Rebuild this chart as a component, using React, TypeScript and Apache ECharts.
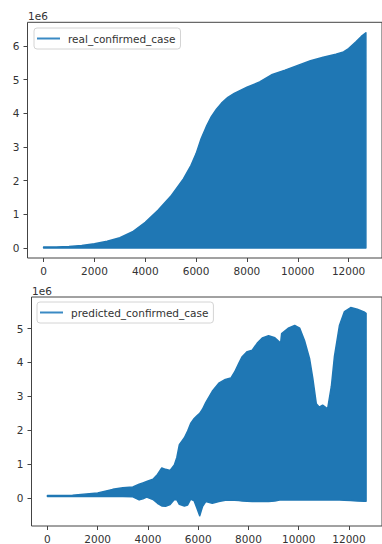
import React, { useEffect, useRef } from "react";
import * as echarts from "echarts";

// ---------- data (values in units of 1e6) ----------
const realX = [0, 500, 1000, 1500, 2000, 2500, 3000, 3500, 4000, 4500, 5000, 5500, 5800, 6000, 6200, 6400, 6600, 6800, 7000, 7250, 7500, 8000, 8500, 9000, 9500, 10000, 10500, 11000, 11500, 11800, 12000, 12300, 12500, 12680];
const realUpper = [0.03, 0.03, 0.04, 0.07, 0.12, 0.2, 0.3, 0.48, 0.76, 1.12, 1.53, 2.05, 2.45, 2.8, 3.25, 3.6, 3.9, 4.12, 4.3, 4.47, 4.59, 4.77, 4.93, 5.15, 5.28, 5.42, 5.56, 5.66, 5.75, 5.82, 5.92, 6.13, 6.28, 6.39];
const realLower = [0, 0, 0, 0, 0, 0, 0, 0, 0, 0, 0, 0, 0, 0, 0, 0, 0, 0, 0, 0, 0, 0, 0, 0, 0, 0, 0, 0, 0, 0, 0, 0, 0, 0];

const predX = [0, 1000, 2000, 2600, 3000, 3400, 3650, 3800, 3950, 4200, 4380, 4550, 4700, 4880, 5050, 5150, 5250, 5450, 5580, 5700, 5840, 5950, 6060, 6170, 6300, 6560, 6820, 7080, 7300, 7450, 7620, 7750, 7950, 8150, 8350, 8550, 8800, 9050, 9280, 9320, 9580, 9840, 10040, 10230, 10430, 10560, 10700, 10820, 10950, 11150, 11300, 11420, 11620, 11820, 12070, 12330, 12600, 12680];
const predUpper = [0.08, 0.09, 0.15, 0.26, 0.31, 0.33, 0.41, 0.45, 0.49, 0.56, 0.7, 0.89, 0.85, 0.82, 0.98, 1.2, 1.58, 1.78, 1.98, 2.2, 2.35, 2.43, 2.5, 2.62, 2.82, 3.15, 3.39, 3.5, 3.54, 3.72, 3.98, 4.17, 4.32, 4.36, 4.57, 4.72, 4.79, 4.73, 4.57, 4.85, 5.01, 5.09, 5.01, 4.65, 4.12, 3.53, 2.78, 2.68, 2.74, 2.63, 3.3, 4.17, 5.09, 5.5, 5.62, 5.57, 5.49, 5.45];
const predLower = [0.05, 0.05, 0.05, 0.05, 0.05, 0.04, -0.05, -0.02, 0.03, -0.04, -0.15, -0.23, -0.24, -0.19, -0.04, -0.05, -0.18, -0.23, -0.2, -0.03, -0.08, -0.3, -0.52, -0.25, -0.1, -0.15, -0.1, -0.06, -0.06, -0.06, -0.07, -0.08, -0.09, -0.1, -0.1, -0.09, -0.1, -0.08, -0.05, -0.05, -0.05, -0.05, -0.05, -0.05, -0.05, -0.05, -0.05, -0.05, -0.05, -0.05, -0.05, -0.05, -0.05, -0.06, -0.07, -0.08, -0.09, -0.09];

const xTicks = [0, 2000, 4000, 6000, 8000, 10000, 12000];
const realYTicks = [0, 1, 2, 3, 4, 5, 6];
const predYTicks = [0, 1, 2, 3, 4, 5];
const realName = "real_confirmed_case";
const predName = "predicted_confirmed_case";

const BLUE = "#1f77b4";
const TEXT = "#333";
const FONT = "DejaVu Sans";

function xAxisFor(gridIndex: number) {
  return {
    type: "value",
    gridIndex,
    min: -634,
    max: 13314,
    axisLine: { show: false, onZero: false },
    splitLine: { show: false },
    axisTick: { show: true, length: 4, customValues: xTicks, lineStyle: { color: "#444" } },
    axisLabel: {
      customValues: xTicks,
      formatter: (v: number) => String(v),
      color: TEXT,
      fontSize: 10.5,
      fontFamily: FONT,
      margin: 7,
    },
  };
}

function yAxisFor(gridIndex: number, min: number, max: number, ticks: number[]) {
  return {
    type: "value",
    gridIndex,
    min,
    max,
    axisLine: { show: false, onZero: false },
    splitLine: { show: false },
    axisTick: { show: true, length: 4, customValues: ticks, lineStyle: { color: "#444" } },
    axisLabel: {
      customValues: ticks,
      formatter: (v: number) => String(v),
      color: TEXT,
      fontSize: 10.5,
      fontFamily: FONT,
      margin: 8,
    },
  };
}

function bandSeries(idx: number, xs: number[], lower: number[], upper: number[], name: string) {
  return {
    type: "custom",
    name,
    xAxisIndex: idx,
    yAxisIndex: idx,
    itemStyle: { color: BLUE },
    encode: { x: 0, y: [1, 2] },
    data: xs.map((x, i) => [x, lower[i], upper[i]]),
    renderItem: (params: any, api: any) => {
      if (params.dataIndex !== 0) return null;
      const pts: number[][] = [];
      for (let i = 0; i < xs.length; i++) pts.push(api.coord([xs[i], upper[i]]));
      for (let i = xs.length - 1; i >= 0; i--) pts.push(api.coord([xs[i], lower[i]]));
      return {
        type: "polygon",
        shape: { points: pts },
        style: { fill: BLUE, stroke: BLUE, lineWidth: 1.5, lineJoin: "round" },
      };
    },
  };
}

function legendFor(name: string, left: number, top: number) {
  return {
    data: [name],
    left,
    top,
    orient: "vertical",
    icon: "rect",
    itemWidth: 23,
    itemHeight: 2,
    itemGap: 0,
    padding: [4, 5, 4, 3],
    backgroundColor: "rgba(255,255,255,0.8)",
    borderColor: "#d4d4d4",
    borderWidth: 1,
    borderRadius: 3,
    selectedMode: false,
    itemStyle: { color: "#3a8ac4" },
    textStyle: { color: TEXT, fontSize: 10.5, fontFamily: FONT, padding: [0, 0, 0, 3], lineHeight: 13 },
  };
}

export default function App() {
  const ref = useRef<HTMLDivElement>(null);
  useEffect(() => {
    if (!ref.current) return;
    const chart = echarts.init(ref.current, undefined, { renderer: "svg" });
    chart.setOption({
      animation: false,
      backgroundColor: "#fff",
      grid: [
        { left: 27.5, top: 22.3, width: 364, height: 235.7, show: true, borderColor: "#444", borderWidth: 1, backgroundColor: "transparent" },
        { left: 31.5, top: 297, width: 354, height: 230, show: true, borderColor: "#444", borderWidth: 1, backgroundColor: "transparent" },
      ],
      xAxis: [xAxisFor(0), xAxisFor(1)],
      yAxis: [yAxisFor(0, -0.3, 6.7, realYTicks), yAxisFor(1, -0.82, 5.93, predYTicks)],
      legend: [legendFor(realName, 34, 28), legendFor(predName, 37, 302)],
      series: [
        bandSeries(0, realX, realLower, realUpper, realName),
        bandSeries(1, predX, predLower, predUpper, predName),
      ],
      graphic: [
        { type: "text", left: 28, top: 10, style: { text: "1e6", fill: TEXT, fontSize: 10.5, fontFamily: FONT } },
        { type: "text", left: 32, top: 285, style: { text: "1e6", fill: TEXT, fontSize: 10.5, fontFamily: FONT } },
      ],
    });
    return () => chart.dispose();
  }, []);
  return (
    <div
      ref={ref}
      style={{ position: "absolute", left: 0, top: 0, width: 382, height: 544 }}
    />
  );
}
